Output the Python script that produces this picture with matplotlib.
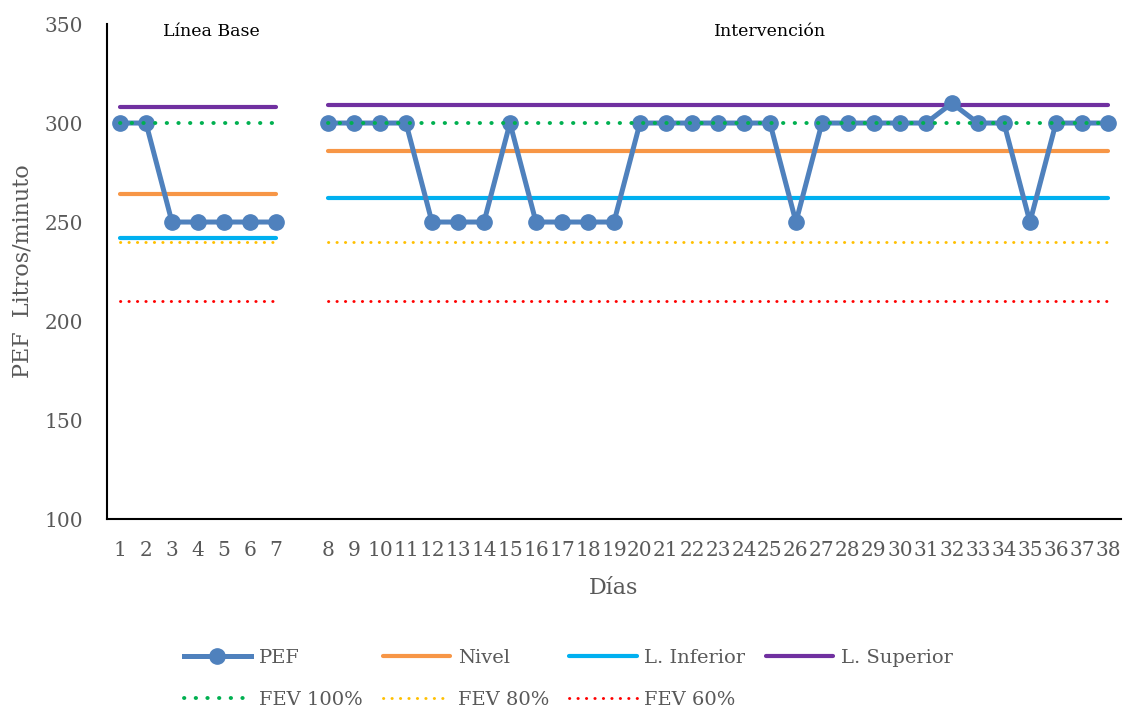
import numpy as np
import matplotlib
matplotlib.use("Agg")
import matplotlib.pyplot as plt

plt.rcParams['font.family'] = ['DejaVu Serif']

# Days per phase
days_base = [1, 2, 3, 4, 5, 6, 7]
days_int = list(range(8, 39))

# Peak expiratory flow (L/min)
pef_base = [300, 300, 250, 250, 250, 250, 250]
pef_int = [300, 300, 300, 300, 250, 250, 250, 300, 250, 250, 250, 250,
           300, 300, 300, 300, 300, 300, 250, 300, 300, 300, 300, 300,
           310, 300, 300, 250, 300, 300, 300]

# Phase reference levels: (baseline, intervention)
nivel = (264, 286)
lim_inferior = (242, 262)
lim_superior = (308, 309)
fev_100 = (300, 300)
fev_80 = (240, 240)
fev_60 = (210, 210)

phase_labels = ["Línea Base", "Intervención"]

gray = "#595959"
blue = "#4F81BD"

# category slots: 1..7, an empty slot, then 8..38
def slot(d):
    return d - 1 if d <= 7 else d

xb = np.array([slot(d) for d in days_base])
xi = np.array([slot(d) for d in days_int])

fig = plt.figure(figsize=(11.25, 7.11), dpi=100)
ax = fig.add_axes([0.0951, 0.270, 0.9013, 0.6962])

def phase_line(vals, **kw):
    x = np.concatenate([xb, [np.nan], xi])
    y = np.concatenate([np.full(len(xb), vals[0]), [np.nan], np.full(len(xi), vals[1])])
    return ax.plot(x, y, **kw)[0]

dots = dict(dash_capstyle="round")
h_fev100 = phase_line(fev_100, color="#00B050", lw=2.8, ls=(0, (0.1, 2.9)), zorder=4, **dots)
h_fev80 = phase_line(fev_80, color="#FFC000", lw=2.1, ls=(0, (0.1, 2.8)), zorder=2, **dots)
h_fev60 = phase_line(fev_60, color="#FF0000", lw=2.1, ls=(0, (0.1, 2.8)), zorder=2, **dots)
h_nivel = phase_line(nivel, color="#F79646", lw=3.0, solid_capstyle="round", zorder=2)
h_inf = phase_line(lim_inferior, color="#00B0F0", lw=3.0, solid_capstyle="round", zorder=2)
h_sup = phase_line(lim_superior, color="#7030A0", lw=3.0, solid_capstyle="round", zorder=2)

xp = np.concatenate([xb, [np.nan], xi])
yp = np.concatenate([pef_base, [np.nan], pef_int])
h_pef, = ax.plot(xp, yp, color=blue, lw=3.6, marker="o", ms=11,
                 solid_joinstyle="round", zorder=3)

ax.text(3.5, 346, phase_labels[0], ha="center", va="center", fontsize=12.5, color="black")
ax.text(25, 346, phase_labels[1], ha="center", va="center", fontsize=12.5, color="black")

ax.set_xlim(-0.5, 38.5)
ax.set_ylim(100, 350)
ax.set_yticks(np.arange(100, 351, 50))
ax.set_xticks(np.concatenate([xb, xi]))
ax.set_xticklabels([str(d) for d in days_base + days_int])
ax.tick_params(axis="y", length=0, pad=17, labelsize=14.5, labelcolor=gray)
ax.tick_params(axis="x", length=0, pad=16, labelsize=14.5, labelcolor=gray)

for s in ["top", "right"]:
    ax.spines[s].set_visible(False)
for s in ["left", "bottom"]:
    ax.spines[s].set_color("black")
    ax.spines[s].set_linewidth(1.5)

ax.set_xlabel("Días", fontsize=16, color=gray, labelpad=12)
ax.set_ylabel("PEF  Litros/minuto", fontsize=16, color=gray, labelpad=8)

handles = [h_pef, h_fev100, h_nivel, h_fev80, h_inf, h_fev60, h_sup]
labels = ["PEF", "FEV 100%", "Nivel", "FEV 80%", "L. Inferior", "FEV 60%", "L. Superior"]
leg = fig.legend(handles, labels, ncol=4, loc="lower center",
                 bbox_to_anchor=(0.505, -0.022), frameon=False, fontsize=14,
                 handlelength=3.45, handletextpad=0.4, columnspacing=1.05,
                 labelspacing=1.25)
for t in leg.get_texts():
    t.set_color(gray)

fig.savefig("out.png", dpi=100)
